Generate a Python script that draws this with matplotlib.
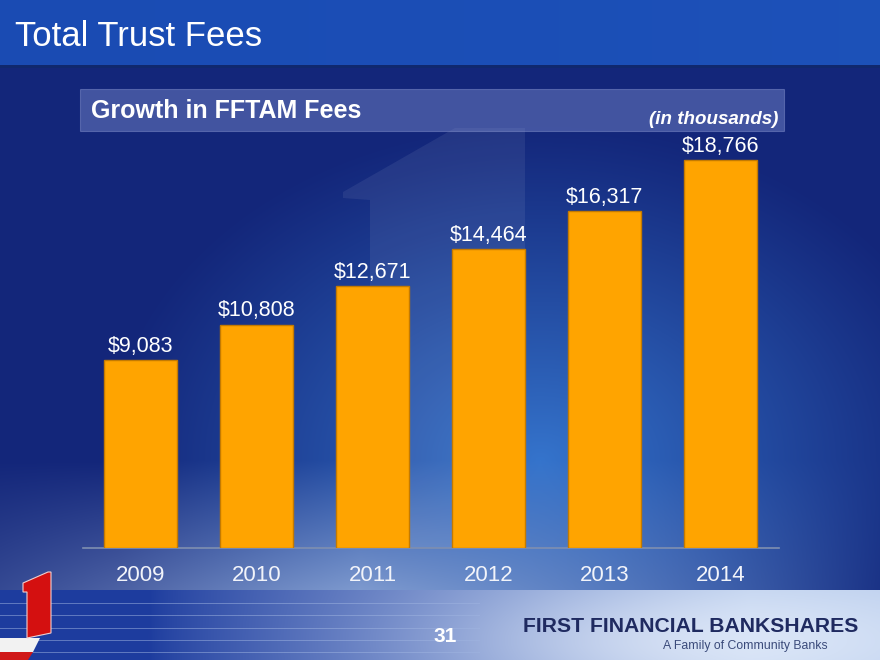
import numpy as np
import matplotlib
matplotlib.use("Agg")
import matplotlib.pyplot as plt
from matplotlib.patches import Polygon, Rectangle

years = ["2009", "2010", "2011", "2012", "2013", "2014"]
fees = [9083, 10808, 12671, 14464, 16317, 18766]
value_labels = ["$9,083", "$10,808", "$12,671", "$14,464", "$16,317", "$18,766"]

W, H = 880, 660

plt.rcParams["font.family"] = ["Liberation Sans", "DejaVu Sans"]

fig = plt.figure(figsize=(8.8, 6.6), dpi=100)

# background picture (slide template)
yy, xx = np.mgrid[0:H, 0:W].astype(float)
img = np.zeros((H, W, 3))

def hexc(h):
    h = h.lstrip("#")
    return np.array([int(h[i:i + 2], 16) / 255 for i in (0, 2, 4)])

navy = hexc("#13267a")
bright = hexc("#3574cc")
pale = hexc("#9db6e0")
# main area
r = np.sqrt(((xx - 540) / 440) ** 2 + ((yy - 460) / 340) ** 2)
t = np.clip(1 - r, 0, 1) ** 1.1
base = navy[None, None, :] * (1 - t[..., None]) + bright[None, None, :] * t[..., None]
low = np.clip((yy - 460) / 130, 0, 1) * np.clip(1 - np.abs(xx - 360) / 540, 0, 1)
base = base * (1 - 0.75 * low[..., None]) + pale[None, None, :] * 0.75 * low[..., None]
img[:] = base
# top band
top = hexc("#1a4bb3") * (1 - xx[..., None] / W * 0.3) + hexc("#2360c6") * (xx[..., None] / W * 0.3)
img[yy < 65] = top[yy < 65]
img[(yy >= 65) & (yy < 68)] = hexc("#10286e")
# bottom band
bt = np.clip((xx - 150) / 600, 0, 1) ** 0.8
glow = np.exp(-(((xx - 720) / 260) ** 2 + ((yy - 640) / 60) ** 2))
bot = hexc("#1d3c9e")[None, None, :] * (1 - bt[..., None]) + hexc("#b7cbec")[None, None, :] * bt[..., None]
bot = bot * (1 - 0.6 * glow[..., None]) + 0.6 * glow[..., None] * np.array([0.95, 0.97, 1.0])
mask = yy >= 590
img[mask] = bot[mask]
for ys in (603, 615, 628, 640, 652):
    band = (np.abs(yy - ys) < 0.8) & (xx < 480)
    img[band] = img[band] * 0.5 + 0.5 * hexc("#9fb4e0")

bg = fig.add_axes([0, 0, 1, 1])
bg.imshow(img, extent=(0, W, H, 0), aspect="auto", zorder=0)
bg.set_xlim(0, W)
bg.set_ylim(H, 0)
bg.axis("off")

# faint watermark "1"
bg.add_patch(Polygon([(343, 192), (455, 128), (525, 128), (525, 548), (370, 548),
                      (370, 200), (343, 198)], closed=True,
                     facecolor="white", alpha=0.07, edgecolor="none", zorder=1))
# header band
bg.add_patch(Rectangle((80, 89), 704, 42, facecolor="#7d8dd0", alpha=0.45,
                       edgecolor="#8a98d0", linewidth=0.8, zorder=2))
# red "1" logo
bg.add_patch(Polygon([(0, 638), (40, 638), (33, 652), (0, 652)], closed=True,
                     facecolor="#f2f2f2", edgecolor="none", zorder=2))
bg.add_patch(Polygon([(0, 652), (33, 652), (28, 660), (0, 660)], closed=True,
                     facecolor="#d01818", edgecolor="none", zorder=2))
bg.add_patch(Polygon([(23, 583), (48, 572), (51, 572), (51, 633), (27, 638),
                      (27, 592), (23, 592)], closed=True,
                     facecolor="#d41010", edgecolor="#f0d0d0", linewidth=0.8, zorder=3))

bg.text(15, 37, "Total Trust Fees", color="white", fontsize=25,
        va="center", ha="left", zorder=5)
bg.text(91, 111, "Growth in FFTAM Fees", color="white", fontsize=18, fontweight="bold",
        va="center", ha="left", zorder=5)
bg.text(778, 119, "(in thousands)", color="white", fontsize=13.5, fontweight="bold",
        style="italic", va="center", ha="right", zorder=5)
bg.text(445, 637, "31", color="white", fontsize=15, fontweight="bold",
        va="center", ha="center", zorder=5)
bg.text(858, 627, "FIRST FINANCIAL BANKSHARES", color="#1f2a60", fontsize=15.2,
        fontweight="bold", va="center", ha="right", zorder=5)
bg.text(828, 646, "A Family of Community Banks", color="#3a4a7a", fontsize=8.8,
        va="center", ha="right", zorder=5)

# chart
left = 82.5 / W
width = 696 / W
bottom = 1 - 548 / H
ymax = 20000
height = ymax * (388 / 18766) / H
ax = fig.add_axes([left, bottom, width, height])
ax.patch.set_alpha(0)
x = np.arange(len(years))
ax.bar(x, fees, width=0.63, color="#ffa400", edgecolor="#c47a00", linewidth=1.0, zorder=3)
for xi, v, lab in zip(x, fees, value_labels):
    ax.text(xi, v + 150, lab, color="white", fontsize=15.5, ha="center", va="bottom", zorder=4)
ax.set_xlim(-0.5, 5.5)
ax.set_ylim(0, ymax)
ax.set_xticks(x)
ax.set_xticklabels(years, color="#f2f4fa", fontsize=16)
ax.tick_params(axis="x", length=0, pad=12)
ax.set_yticks([])
for s in ("top", "right", "left"):
    ax.spines[s].set_visible(False)
ax.spines["bottom"].set_color("#7f8fb0")
ax.spines["bottom"].set_linewidth(1.2)

fig.savefig("out.png", dpi=100)
